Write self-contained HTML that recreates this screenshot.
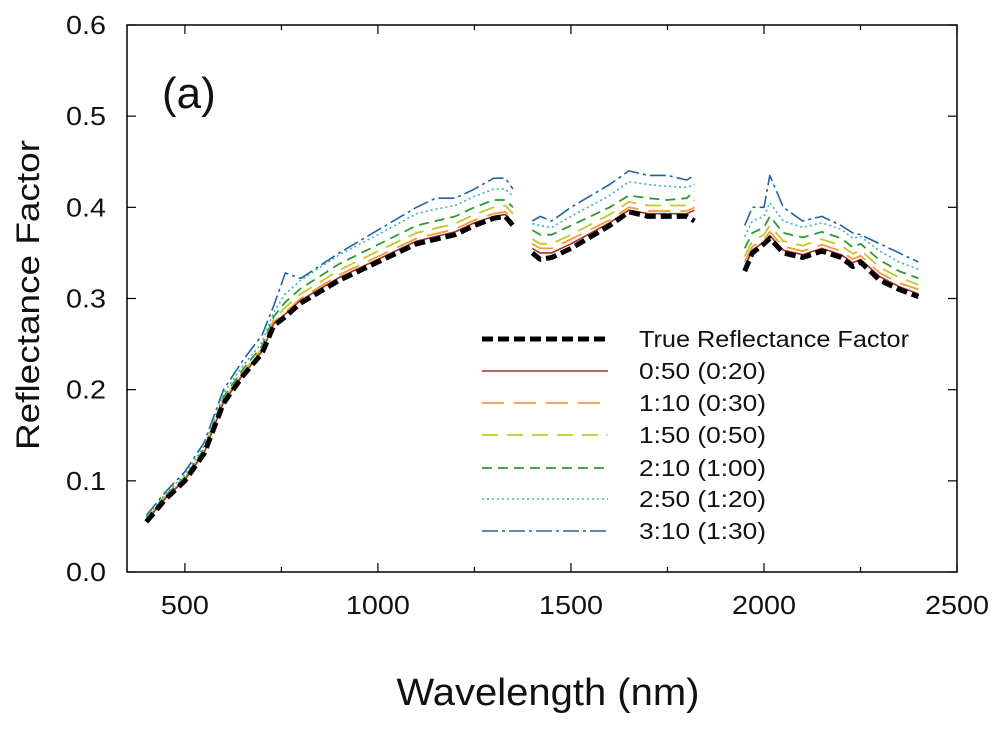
<!DOCTYPE html>
<html><head><meta charset="utf-8"><style>
html,body{margin:0;padding:0;background:#fff;}
svg{display:block;font-family:"Liberation Sans",Arial,sans-serif;}
</style></head><body>
<svg id="chart" width="1000" height="729" viewBox="0 0 1000 729">
<g id="axes"></g><g id="series"></g><g id="legend"></g>
</svg>
<script>
const seg1 = [400,450,500,550,600,650,700,730,760,800,900,1000,1100,1150,1200,1250,1300,1330,1350];
const seg2 = [1400,1420,1450,1500,1600,1650,1700,1750,1800,1820];
const seg3 = [1950,1970,2000,2015,2050,2100,2150,2200,2230,2250,2300,2350,2400];
const trueVals = [[0.055,0.080,0.100,0.130,0.185,0.215,0.240,0.270,0.280,0.295,0.320,0.340,0.360,0.365,0.370,0.380,0.388,0.390,0.380],
 [0.350,0.343,0.345,0.355,0.380,0.395,0.390,0.390,0.390,0.385],
 [0.330,0.350,0.360,0.366,0.350,0.345,0.352,0.345,0.335,0.340,0.320,0.310,0.302]];
const s050 = [[0.056,0.081,0.101,0.131,0.186,0.216,0.242,0.272,0.283,0.298,0.323,0.343,0.363,0.368,0.373,0.383,0.390,0.392,0.383],
 [0.355,0.350,0.350,0.360,0.383,0.397,0.393,0.393,0.393,0.397],
 [0.335,0.353,0.362,0.369,0.353,0.348,0.355,0.348,0.339,0.343,0.324,0.313,0.305]];
const s110 = [[0.056,0.082,0.102,0.132,0.187,0.217,0.243,0.274,0.285,0.300,0.326,0.346,0.366,0.371,0.376,0.386,0.393,0.395,0.386],
 [0.360,0.355,0.355,0.365,0.386,0.400,0.396,0.396,0.396,0.400],
 [0.340,0.357,0.365,0.373,0.357,0.352,0.359,0.352,0.343,0.347,0.328,0.317,0.310]];
const s150 = [[0.057,0.083,0.103,0.133,0.189,0.219,0.245,0.277,0.290,0.305,0.331,0.352,0.372,0.377,0.382,0.392,0.400,0.402,0.393],
 [0.365,0.360,0.360,0.370,0.392,0.406,0.402,0.402,0.402,0.408],
 [0.346,0.363,0.370,0.380,0.363,0.358,0.365,0.358,0.349,0.353,0.334,0.323,0.315]];
const s210 = [[0.058,0.084,0.104,0.135,0.192,0.222,0.248,0.280,0.296,0.311,0.338,0.359,0.380,0.385,0.390,0.400,0.408,0.408,0.400],
 [0.375,0.370,0.370,0.380,0.400,0.413,0.410,0.408,0.410,0.418],
 [0.355,0.372,0.378,0.390,0.372,0.367,0.373,0.366,0.356,0.360,0.342,0.330,0.322]];
const s250 = [[0.060,0.086,0.107,0.138,0.196,0.226,0.252,0.285,0.305,0.320,0.348,0.370,0.393,0.398,0.402,0.412,0.420,0.420,0.412],
 [0.382,0.380,0.378,0.390,0.413,0.428,0.425,0.423,0.422,0.425],
 [0.368,0.385,0.390,0.405,0.385,0.378,0.383,0.376,0.366,0.368,0.352,0.340,0.332]];
const s310 = [[0.062,0.088,0.110,0.142,0.200,0.232,0.260,0.292,0.328,0.322,0.350,0.375,0.400,0.410,0.410,0.420,0.432,0.432,0.420],
 [0.385,0.390,0.385,0.400,0.425,0.440,0.435,0.435,0.430,0.435],
 [0.380,0.400,0.400,0.435,0.400,0.385,0.390,0.380,0.372,0.370,0.360,0.350,0.340]];
const seriesNames = ["true-reflectance","0-50","1-10","1-50","2-10","2-50","3-10"];
const seriesLabels = ["True Reflectance Factor","0:50 (0:20)","1:10 (0:30)","1:50 (0:50)","2:10 (1:00)","2:50 (1:20)","3:10 (1:30)"];
const xTicks = [500,1000,1500,2000,2500];
const yTicks = [0.0,0.1,0.2,0.3,0.4,0.5,0.6];

const NS="http://www.w3.org/2000/svg";
const L=127,R=957,T=25,B=572,X0=350,X1=2500,Y0=0,Y1=0.6;
const xs=v=>L+(v-X0)/(X1-X0)*(R-L);
const ys=v=>B-(v-Y0)/(Y1-Y0)*(B-T);
function mk(tag,attrs,parent){const e=document.createElementNS(NS,tag);for(const k in attrs)e.setAttribute(k,attrs[k]);parent.appendChild(e);return e;}
const axes=document.getElementById('axes');
const frame=mk('rect',{x:L,y:T,width:R-L,height:B-T,fill:'none',stroke:'#000','stroke-width':1.5},axes);


for(let v=500;v<=2500;v+=250){
  const len=(v%500===0)?9:5;
  const t1=mk('line',{x1:xs(v),x2:xs(v),y1:B,y2:B-len,stroke:'#000','stroke-width':1.2},axes);
  
  
  const t2=mk('line',{x1:xs(v),x2:xs(v),y1:T,y2:T+len,stroke:'#000','stroke-width':1.2},axes);
  
  
}
xTicks.forEach(v=>{
  const t=mk('text',{x:xs(v),y:B+42,'text-anchor':'middle','font-size':26,fill:'#111',textLength:String(v).length*16,lengthAdjust:'spacingAndGlyphs'},axes);
  t.textContent=v;
  
  
});
yTicks.forEach(v=>{
  const t1=mk('line',{x1:L,x2:L+9,y1:ys(v),y2:ys(v),stroke:'#000','stroke-width':1.2},axes);
  
  
  const t2=mk('line',{x1:R,x2:R-9,y1:ys(v),y2:ys(v),stroke:'#000','stroke-width':1.2},axes);
  
  
  const t=mk('text',{x:L-21,y:ys(v)+9,'text-anchor':'end','font-size':26,fill:'#111',textLength:40,lengthAdjust:'spacingAndGlyphs'},axes);
  t.textContent=v.toFixed(1);
  
  
});
const yt=mk('text',{x:0,y:0,transform:'translate(39,295) rotate(-90)','text-anchor':'middle','font-size':32,fill:'#111',textLength:310,lengthAdjust:'spacingAndGlyphs'},axes);
yt.textContent='Reflectance Factor';


const xt=mk('text',{x:548,y:705,'text-anchor':'middle','font-size':38,fill:'#111',textLength:303,lengthAdjust:'spacingAndGlyphs'},axes);
xt.textContent='Wavelength (nm)';


const pl=mk('text',{x:162,y:108,'font-size':44,fill:'#111'},axes);
pl.textContent='(a)';



const segs=[seg1,seg2,seg3];
const allSeries=[trueVals,s050,s110,s150,s210,s250,s310];
const styles=[
 {stroke:'#000','stroke-width':5,'stroke-dasharray':'11 5'},
 {stroke:'#a3322c','stroke-width':1.6},
 {stroke:'#f39a3a','stroke-width':1.8,'stroke-dasharray':'22 10'},
 {stroke:'#c6c628','stroke-width':1.8,'stroke-dasharray':'16 9'},
 {stroke:'#2e9a32','stroke-width':1.8,'stroke-dasharray':'10 6'},
 {stroke:'#3fb3b3','stroke-width':1.6,'stroke-dasharray':'2 3'},
 {stroke:'#2462a4','stroke-width':1.6,'stroke-dasharray':'16 4 3 4'}
];
const sg=document.getElementById('series');
for(let s=allSeries.length-1;s>=0;s--){
  const g=mk('g',{},sg);
  
  
  segs.forEach((wl,k)=>{
    const d=wl.map((w,i)=>(i?'L':'M')+xs(w).toFixed(1)+','+ys(allSeries[s][k][i]).toFixed(1)).join(' ');
    const p=mk('path',Object.assign({d:d,fill:'none','stroke-linejoin':'round'},styles[s]),g);
    
    
  });
}
const lg=document.getElementById('legend');
const rowsY=[339,371,403,435,468,499,531];
const labelW=[270,127,127,127,127,127,127];
seriesLabels.forEach((lab,i)=>{
  const g=mk('g',{},lg);
  
  
  mk('line',Object.assign({x1:482,x2:608,y1:rowsY[i],y2:rowsY[i]},styles[i]),g);
  const t=mk('text',{x:639,y:rowsY[i]+8,'font-size':23,fill:'#111',textLength:labelW[i],lengthAdjust:'spacingAndGlyphs'},g);
  t.textContent=lab;
});
</script>
</body></html>
